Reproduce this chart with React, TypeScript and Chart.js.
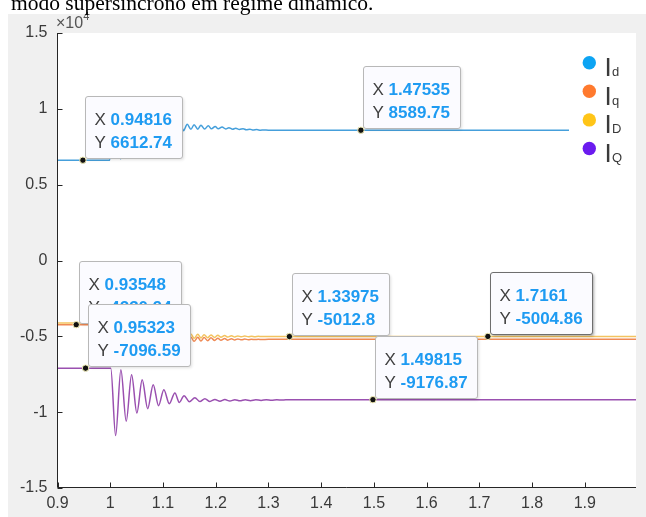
import React, { useEffect, useRef } from "react";
import { Chart, registerables } from "chart.js";

Chart.register(...registerables);

// ---------- axes ----------
const xTickValues = [0.9, 1.0, 1.1, 1.2, 1.3, 1.4, 1.5, 1.6, 1.7, 1.8, 1.9];
const xTickLabels = ["0.9", "1", "1.1", "1.2", "1.3", "1.4", "1.5", "1.6", "1.7", "1.8", "1.9"];
const yTickValues = [-15000, -10000, -5000, 0, 5000, 10000, 15000];
const yTickLabels = ["-1.5", "-1", "-0.5", "0", "0.5", "1", "1.5"];
const xMin = 0.9;
const xMax = 1.997;
const yMin = -15000;
const yMax = 15000;

// ---------- series ----------
const seriesSubscripts = ["d", "q", "D", "Q"];
const lineColors = ["#459fdb", "#ef8a55", "#f3c35f", "#9a50b0"];
const legendColors = ["#0da4f3", "#ff7a2e", "#ffc518", "#6b1bef"];

const idTime = [0.9, 0.999, 1.007, 1.020, 1.027, 1.034, 1.040, 1.047, 1.054, 1.060, 1.067, 1.073, 1.080, 1.087, 1.093, 1.100, 1.106, 1.113, 1.120, 1.126, 1.133, 1.139, 1.146, 1.153, 1.159, 1.166, 1.172, 1.179, 1.186, 1.192, 1.199, 1.205, 1.212, 1.219, 1.225, 1.232, 1.238, 1.245, 1.252, 1.258, 1.265, 1.271, 1.278, 1.285, 1.291, 1.300, 1.997];
const idValue = [6613, 6613, 10300, 6700, 10000, 7500, 9800, 7700, 9600, 7900, 9450, 8050, 9300, 8200, 9200, 8300, 9100, 8400, 9050, 8500, 9000, 8560, 8980, 8650, 8950, 8660, 8920, 8670, 8880, 8680, 8840, 8680, 8800, 8670, 8760, 8660, 8720, 8640, 8690, 8620, 8660, 8600, 8630, 8590, 8610, 8590, 8590];

const iqTime = [0.9, 0.999, 1.005, 1.012, 1.018, 1.025, 1.031, 1.038, 1.044, 1.050, 1.057, 1.063, 1.070, 1.076, 1.082, 1.089, 1.095, 1.102, 1.108, 1.114, 1.121, 1.127, 1.134, 1.140, 1.146, 1.153, 1.159, 1.166, 1.172, 1.178, 1.185, 1.191, 1.198, 1.204, 1.210, 1.217, 1.223, 1.230, 1.236, 1.242, 1.249, 1.255, 1.262, 1.268, 1.274, 1.281, 1.287, 1.300, 1.997];
const iqValue = [-4231, -4231, -6500, -3500, -6300, -3800, -6100, -4000, -5900, -4200, -5800, -4400, -5700, -4600, -5600, -4750, -5500, -4850, -5450, -4950, -5400, -5000, -5380, -5030, -5350, -5050, -5330, -5060, -5310, -5080, -5290, -5100, -5270, -5120, -5260, -5140, -5250, -5160, -5240, -5170, -5230, -5180, -5220, -5190, -5215, -5195, -5210, -5200, -5200];

const iDTime = [0.9, 0.999, 1.005, 1.012, 1.018, 1.025, 1.031, 1.038, 1.044, 1.050, 1.057, 1.063, 1.070, 1.076, 1.082, 1.089, 1.095, 1.102, 1.108, 1.114, 1.121, 1.127, 1.134, 1.140, 1.146, 1.153, 1.159, 1.166, 1.172, 1.178, 1.185, 1.191, 1.198, 1.204, 1.210, 1.217, 1.223, 1.230, 1.236, 1.242, 1.249, 1.255, 1.262, 1.268, 1.274, 1.281, 1.287, 1.300, 1.997];
const iDValue = [-4120, -4120, -6300, -3300, -6100, -3600, -5900, -3800, -5700, -4000, -5600, -4200, -5500, -4400, -5400, -4550, -5300, -4650, -5250, -4750, -5200, -4800, -5180, -4830, -5150, -4850, -5130, -4870, -5110, -4890, -5090, -4910, -5070, -4930, -5060, -4950, -5050, -4960, -5040, -4970, -5030, -4980, -5025, -4990, -5020, -4995, -5012, -5005, -5005];

const iQTime = [0.9, 1.001, 1.0102, 1.0202, 1.0303, 1.0405, 1.0505, 1.0606, 1.071, 1.0815, 1.0916, 1.1017, 1.112, 1.1226, 1.131, 1.140, 1.150, 1.1605, 1.170, 1.1795, 1.189, 1.1985, 1.208, 1.2174, 1.227, 1.2363, 1.246, 1.256, 1.266, 1.276, 1.286, 1.296, 1.306, 1.316, 1.326, 1.340, 1.997];
const iQValue = [-7097, -7097, -11546, -7204, -10605, -7533, -10053, -7862, -9770, -8191, -9572, -8520, -9441, -8737, -9355, -8914, -9309, -9046, -9300, -9112, -9290, -9158, -9280, -9170, -9270, -9175, -9255, -9180, -9240, -9180, -9225, -9180, -9210, -9180, -9200, -9177, -9177];

// ---------- data tips ----------
const tipX = [0.94816, 1.47535, 0.93548, 0.95323, 1.33975, 1.7161, 1.49815];
const tipY = [6612.74, 8589.75, -4230.94, -7096.59, -5012.8, -5004.86, -9176.87];
const tipXText = ["0.94816", "1.47535", "0.93548", "0.95323", "1.33975", "1.7161", "1.49815"];
const tipYText = ["6612.74", "8589.75", "-4230.94", "-7096.59", "-5012.8", "-5004.86", "-9176.87"];
const tipSelected = [false, false, false, false, false, true, false];

const caption = "modo supersíncrono em regime dinâmico.";

function pts(t: number[], v: number[]) {
  return t.map((x, i) => ({ x, y: v[i] }));
}

const FONT = "'Liberation Sans', Arial, sans-serif";

function roundRect(ctx: CanvasRenderingContext2D, x: number, y: number, w: number, h: number, r: number) {
  ctx.beginPath();
  ctx.moveTo(x + r, y);
  ctx.lineTo(x + w - r, y);
  ctx.quadraticCurveTo(x + w, y, x + w, y + r);
  ctx.lineTo(x + w, y + h - r);
  ctx.quadraticCurveTo(x + w, y + h, x + w - r, y + h);
  ctx.lineTo(x + r, y + h);
  ctx.quadraticCurveTo(x, y + h, x, y + h - r);
  ctx.lineTo(x, y + r);
  ctx.quadraticCurveTo(x, y, x + r, y);
  ctx.closePath();
}

const decorPlugin = {
  id: "decor",
  beforeDraw(chart: any) {
    const { ctx, chartArea: a, width, height } = chart;
    ctx.save();
    ctx.fillStyle = "#ffffff";
    ctx.fillRect(0, 0, width, height);
    ctx.fillStyle = "#f0f0f0";
    ctx.fillRect(8, 14, width - 8, height - 14);
    ctx.fillStyle = "#ffffff";
    ctx.fillRect(a.left, a.top, a.right - a.left, a.bottom - a.top);
    ctx.restore();
  },
  afterDatasetsDraw(chart: any) {
    const { ctx, chartArea: a, scales } = chart;
    const xs = scales.x;
    const ys = scales.y;
    ctx.save();

    // axes lines + inward ticks
    const L = Math.floor(a.left) + 0.5;
    const B = Math.floor(a.bottom) - 0.5;
    ctx.strokeStyle = "#262626";
    ctx.lineWidth = 1;
    ctx.beginPath();
    ctx.moveTo(L, a.top);
    ctx.lineTo(L, B);
    ctx.lineTo(a.right, B);
    for (const v of yTickValues) {
      const py = Math.round(ys.getPixelForValue(v)) + 0.5;
      ctx.moveTo(L, py);
      ctx.lineTo(L + 5, py);
    }
    for (const v of xTickValues) {
      const px = Math.round(xs.getPixelForValue(v)) + 0.5;
      ctx.moveTo(px, B);
      ctx.lineTo(px, B - 5);
    }
    ctx.stroke();

    // exponent label
    ctx.fillStyle = "#555555";
    ctx.textAlign = "left";
    ctx.textBaseline = "alphabetic";
    ctx.font = `16px ${FONT}`;
    ctx.fillText("×10", 56, 28);
    const w10 = ctx.measureText("×10").width;
    ctx.font = `11px ${FONT}`;
    ctx.fillText("4", 56 + w10, 20);

    // legend
    ctx.fillStyle = "#ffffff";
    ctx.fillRect(569, 36, a.right - 569, 130);
    for (let i = 0; i < seriesSubscripts.length; i++) {
      const cy = 62.7 + 28.6 * i;
      ctx.beginPath();
      ctx.arc(589.3, cy, 6.7, 0, Math.PI * 2);
      ctx.fillStyle = legendColors[i];
      ctx.fill();
      ctx.fillStyle = "#3a3a3a";
      ctx.font = `26px ${FONT}`;
      ctx.fillText("I", 604.5, cy + 13.3);
      ctx.font = `13px ${FONT}`;
      ctx.fillText(seriesSubscripts[i], 612, cy + 13.3);
    }

    // data tips
    for (let i = 0; i < tipX.length; i++) {
      const mx = xs.getPixelForValue(tipX[i]);
      const my = ys.getPixelForValue(tipY[i]);
      ctx.font = `17px ${FONT}`;
      const lw = Math.max(ctx.measureText("X ").width, ctx.measureText("Y ").width);
      ctx.font = `bold 17px ${FONT}`;
      const vw = Math.max(ctx.measureText(tipXText[i]).width, ctx.measureText(tipYText[i]).width);
      const w = Math.round(9 + lw + vw + 10);
      const h = 62;
      const bx = Math.round(mx + 2.5) + 0.5;
      const by = Math.round(my - 2 - h) + 0.5;
      ctx.save();
      ctx.shadowColor = tipSelected[i] ? "rgba(0,0,0,0.35)" : "rgba(0,0,0,0.12)";
      ctx.shadowBlur = 3;
      ctx.shadowOffsetX = 1.5;
      ctx.shadowOffsetY = 1.5;
      roundRect(ctx, bx, by, w, h, 2.5);
      ctx.fillStyle = "#fbfbff";
      ctx.fill();
      ctx.restore();
      roundRect(ctx, bx, by, w, h, 2.5);
      ctx.strokeStyle = tipSelected[i] ? "#6e6e6e" : "#b8b8b8";
      ctx.lineWidth = 1;
      ctx.stroke();

      ctx.textAlign = "left";
      ctx.textBaseline = "alphabetic";
      ctx.font = `17px ${FONT}`;
      ctx.fillStyle = "#404040";
      ctx.fillText("X", bx + 9, by + 28);
      ctx.fillText("Y", bx + 9, by + 51);
      ctx.font = `bold 17px ${FONT}`;
      ctx.fillStyle = "#1e9bf2";
      ctx.fillText(tipXText[i], bx + 9 + lw, by + 28);
      ctx.fillText(tipYText[i], bx + 9 + lw, by + 51);

      ctx.beginPath();
      ctx.arc(mx, my, 3.2, 0, Math.PI * 2);
      ctx.fillStyle = "#111111";
      ctx.fill();
      ctx.strokeStyle = "#f5f0b8";
      ctx.lineWidth = 1;
      ctx.stroke();
    }
    ctx.restore();
  },
};

export default function App() {
  const ref = useRef<HTMLCanvasElement | null>(null);

  useEffect(() => {
    if (!ref.current) return;
    const mk = (label: string, t: number[], v: number[], i: number, order: number) => ({
      label,
      data: pts(t, v),
      borderColor: lineColors[i],
      backgroundColor: lineColors[i],
      borderWidth: 1.5,
      pointRadius: 0,
      fill: false,
      cubicInterpolationMode: "monotone" as const,
      order,
    });
    const chart = new Chart(ref.current, {
      type: "line",
      data: {
        datasets: [
          mk("Id", idTime, idValue, 0, 4),
          mk("Iq", iqTime, iqValue, 1, 3),
          mk("ID", iDTime, iDValue, 2, 2),
          mk("IQ", iQTime, iQValue, 3, 1),
        ],
      },
      options: {
        animation: false,
        responsive: false,
        devicePixelRatio: 1,
        parsing: false,
        layout: { padding: { left: 0, top: 33, right: 10, bottom: 0 } },
        plugins: { legend: { display: false }, tooltip: { enabled: false } },
        scales: {
          x: {
            type: "linear",
            min: xMin,
            max: xMax,
            grid: { display: false, drawTicks: false },
            border: { display: false },
            afterBuildTicks: (scale: any) => {
              scale.ticks = xTickValues.map((v) => ({ value: v }));
            },
            afterFit: (scale: any) => {
              scale.height = 29;
            },
            ticks: {
              autoSkip: false,
              maxRotation: 0,
              padding: 6,
              color: "#3a3a3a",
              font: { family: FONT, size: 16 },
              callback: (_v: any, idx: number) => xTickLabels[idx],
            },
          },
          y: {
            type: "linear",
            min: yMin,
            max: yMax,
            grid: { display: false, drawTicks: false },
            border: { display: false },
            afterBuildTicks: (scale: any) => {
              scale.ticks = yTickValues.map((v) => ({ value: v }));
            },
            afterFit: (scale: any) => {
              scale.width = 57.5;
            },
            ticks: {
              autoSkip: false,
              padding: 10,
              color: "#3a3a3a",
              font: { family: FONT, size: 16 },
              callback: (_v: any, idx: number) => yTickLabels[idx],
            },
          },
        },
      },
      plugins: [decorPlugin],
    });
    return () => chart.destroy();
  }, []);

  return (
    <div style={{ position: "absolute", left: 0, top: 0, width: 646, height: 517, overflow: "hidden", background: "#fff" }}>
      <canvas ref={ref} width={646} height={517} style={{ position: "absolute", left: 0, top: 0, width: 646, height: 517, display: "block" }} />
      <div
        style={{
          position: "absolute",
          left: 11,
          top: -7,
          fontFamily: "'Liberation Serif', 'Times New Roman', serif",
          fontSize: "21.5px",
          lineHeight: "21.5px",
          whiteSpace: "nowrap",
          color: "#000",
        }}
      >
        {caption}
      </div>
    </div>
  );
}
